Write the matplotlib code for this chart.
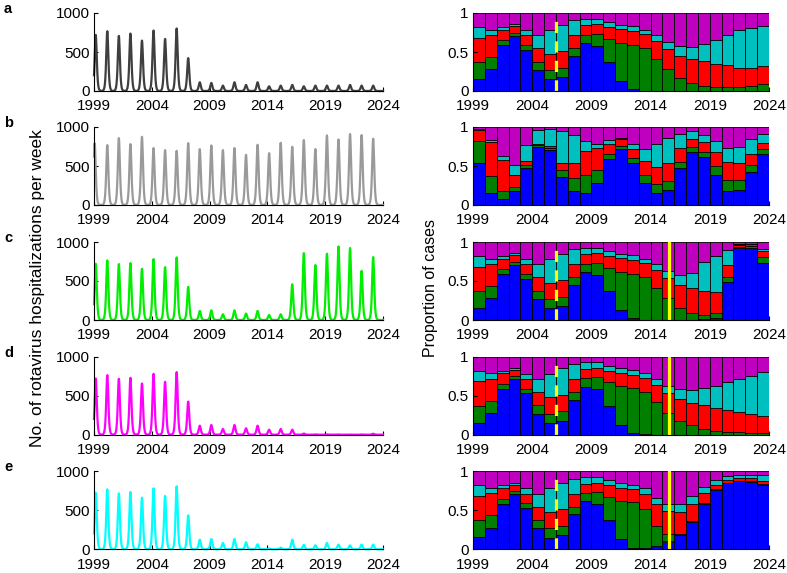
import numpy as np
import matplotlib
matplotlib.use("Agg")
import matplotlib.pyplot as plt

plt.rcParams['font.family'] = ['Liberation Sans', 'DejaVu Sans']

# ---------------- data ----------------
seasons = np.arange(1999, 2024)            # 25 seasons
tick_years = [1999, 2004, 2009, 2014, 2019, 2024]
panel_labels = ['a', 'b', 'c', 'd', 'e']

# annual peak of weekly hospitalizations (per season)
peaks_a = [720, 767, 707, 737, 647, 776, 668, 802, 422, 112, 103, 69, 112, 78, 112,
           60, 69, 78, 60, 69, 69, 69, 78, 69, 69]
peaks_b = [790, 768, 858, 781, 875, 730, 704, 695, 794, 717, 764, 704, 730, 644, 773,
           665, 798, 747, 833, 717, 893, 841, 910, 897, 850]
peaks_c = [721, 764, 717, 730, 657, 781, 678, 803, 425, 116, 124, 73, 124, 82, 116,
           64, 73, 459, 858, 704, 850, 944, 923, 631, 807]
peaks_d = [721, 764, 717, 730, 657, 781, 678, 803, 425, 116, 124, 73, 124, 82, 116,
           64, 73, 64, 15, 4, 3, 3, 3, 3, 12]
peaks_e = [726, 769, 718, 735, 662, 782, 684, 808, 436, 124, 132, 81, 132, 90, 64,
           10, 21, 124, 56, 51, 81, 60, 51, 60, 60]
peak_offset = [0.15] * 25          # peak timing within season (years)
peak_offset_b = [0.06] + [0.15] * 24

# strain proportions per season (blue, green, red, cyan; magenta = remainder)
blue_a = [.153, .277, .587, .71, .53, .27, .15, .18, .447, .617, .583, .37, .13, .025, .004,
          0, 0, 0, 0, 0, 0, 0, 0, 0, 0]
green_a = [.221, .161, .063, .04, .06, .105, .12, .12, .098, .106, .153, .302, .49, .57, .541,
           .413, .277, .162, .098, .064, .047, .047, .047, .064, .09]
red_a = [.311, .282, .137, .08, .125, .17, .21, .215, .17, .12, .119, .148, .17, .171, .183,
         .23, .259, .288, .306, .315, .298, .283, .253, .236, .23]
cyan_a = [.135, .067, .033, .025, .065, .17, .30, .335, .191, .085, .073, .065, .06, .064, .059,
          .072, .094, .129, .162, .225, .315, .393, .479, .51, .518]

blue_b = [.54, .15, .076, .18, .48, .74, .70, .364, .18, .16, .28, .593, .72, .542, .28,
          .153, .195, .47, .682, .614, .381, .174, .19, .428, .657]
green_b = [.28, .22, .104, .053, .03, .023, .033, .081, .16, .22, .165, .064, .034, .064, .101,
           .122, .119, .085, .064, .068, .115, .144, .132, .085, .055]
red_b = [.146, .435, .396, .147, .053, .021, .021, .097, .202, .31, .28, .131, .086, .114, .179,
         .215, .22, .17, .104, .128, .186, .237, .212, .147, .085]
cyan_b = [.014, .025, .051, .133, .204, .174, .216, .411, .361, .136, .059, .042, .02, .064, .16,
          .294, .326, .185, .103, .093, .136, .178, .208, .18, .118]

blue_c = blue_a[:17] + [0, 0, .01, .02, .485, .92, .928, .728]
green_c = green_a[:17] + [.15, .09, .05, .07, .072, .02, .025, .076]
red_c = red_a[:17] + [.30, .32, .315, .267, .149, .02, .017, .081]
cyan_c = cyan_a[:17] + [.13, .19, .37, .463, .192, .015, .005, .03]

blue_d = blue_a[:17] + [0, 0, 0, 0, 0, 0, 0, 0]
green_d = green_a[:17] + [.174, .123, .068, .047, .03, .03, .025, .025]
red_d = red_a[:17] + [.288, .287, .309, .30, .292, .262, .238, .212]
cyan_d = cyan_a[:17] + [.127, .158, .223, .283, .352, .424, .495, .563]

blue_e = blue_a[:13] + [.02, .013, .04, .10, .18, .35, .585, .763, .847, .873, .869, .83]
green_e = green_a[:13] + [.58, .507, .26, .095, .02, .01, .005, .007, .003, .002, .001, .005]
red_e = red_a[:13] + [.175, .19, .285, .295, .28, .225, .13, .06, .044, .04, .04, .038]
cyan_e = cyan_a[:13] + [.055, .07, .07, .09, .10, .095, .077, .06, .051, .042, .047, .084]

vaccine_intro = 2006.0     # dashed yellow line
switch_time = 2015.55      # solid yellow line

panels = [
    dict(peaks=peaks_a, offs=peak_offset, color='#3f3f3f',
         props=(blue_a, green_a, red_a, cyan_a), dashed=True, solid=False),
    dict(peaks=peaks_b, offs=peak_offset_b, color='#9a9a9a',
         props=(blue_b, green_b, red_b, cyan_b), dashed=False, solid=False),
    dict(peaks=peaks_c, offs=peak_offset, color='#00ee00',
         props=(blue_c, green_c, red_c, cyan_c), dashed=True, solid=True),
    dict(peaks=peaks_d, offs=peak_offset, color='#ff00ff',
         props=(blue_d, green_d, red_d, cyan_d), dashed=True, solid=True),
    dict(peaks=peaks_e, offs=peak_offset, color='#00ffff',
         props=(blue_e, green_e, red_e, cyan_e), dashed=True, solid=True),
]
strain_colors = ['#0000ff', '#007f00', '#ff0000', '#00bfbf', '#bf00bf']

# ---------------- figure ----------------
W, H = 787, 573
fig = plt.figure(figsize=(W / 100, H / 100), dpi=100)

fs = 11
row_bottoms_px = [91, 205, 320, 434.7, 549.3]
ax_h_px = 78
lx0, lx1 = 94, 383
rx0, rx1 = 473, 769

t = np.arange(1999, 2024 + 1e-9, 1 / 52)
w = 0.12


def style_axes(ax):
    for s in ['top', 'right']:
        ax.spines[s].set_visible(False)
    for s in ['left', 'bottom']:
        ax.spines[s].set_linewidth(0.8)
    ax.tick_params(direction='in', length=3, width=0.8, labelsize=fs, pad=3)
    ax.tick_params(axis='x', pad=6)
    ax.set_xlim(1999, 2024)
    ax.set_xticks(tick_years)
    ax.set_xticklabels([str(y) for y in tick_years])


for i, p in enumerate(panels):
    bpx = row_bottoms_px[i]
    bottom = 1 - bpx / H
    h = ax_h_px / H
    # left: weekly time series
    axl = fig.add_axes([lx0 / W, bottom, (lx1 - lx0) / W, h])
    series = np.zeros_like(t)
    for yr, pk, off in zip(seasons, p['peaks'], p['offs']):
        series += pk / np.cosh((t - (yr + off)) / w) ** 2
    axl.plot(t, series, color=p['color'], lw=1.6, clip_on=False)
    axl.set_ylim(0, 1000)
    axl.set_yticks([0, 500, 1000])
    style_axes(axl)

    # right: stacked proportions
    axr = fig.add_axes([rx0 / W, bottom, (rx1 - rx0) / W, h])
    comps = [np.array(c, dtype=float) for c in p['props']]
    comps.append(1 - sum(comps))
    base = np.zeros(len(seasons))
    for c, col in zip(comps, strain_colors):
        axr.bar(seasons, c, width=1, bottom=base, align='edge', color=col,
                edgecolor='black', linewidth=0.6)
        base = base + c
    if p['dashed']:
        axr.plot([vaccine_intro, vaccine_intro], [0, 1], color='#ffff00', lw=2.3,
                 linestyle=(0, (3.5, 2.6)), solid_capstyle='butt')
    if p['solid']:
        axr.plot([switch_time, switch_time], [0, 1], color='#ffff00', lw=2.3)
    axr.set_ylim(0, 1)
    axr.set_yticks([0, 0.5, 1])
    axr.set_yticklabels(['0', '0.5', '1'])
    style_axes(axr)

    fig.text(4 / W, 1 - (bpx - 82) / H, panel_labels[i], fontsize=10.5, fontweight='bold',
             ha='left', va='center')

fig.text(38 / W, 1 - 288 / H, 'No. of rotavirus hospitalizations per week', rotation=90,
         ha='center', va='center', fontsize=12.5)
fig.text(431 / W, 1 - 288 / H, 'Proportion of cases', rotation=90,
         ha='center', va='center', fontsize=11.5)

fig.savefig('out.png', dpi=100)
